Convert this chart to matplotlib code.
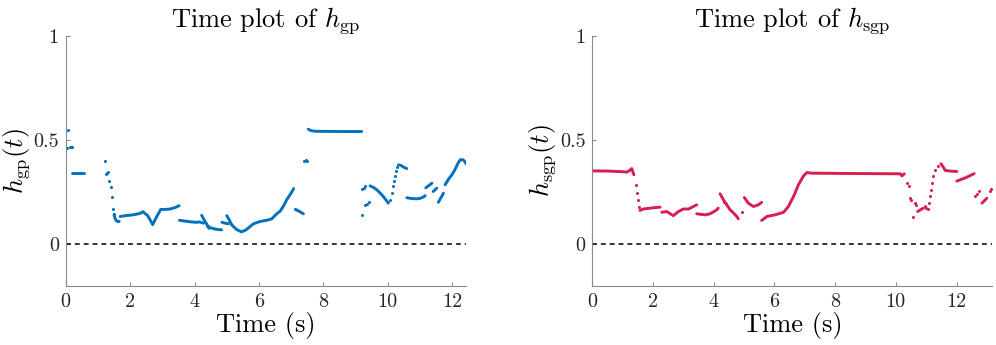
import matplotlib
matplotlib.use("Agg")
import matplotlib.pyplot as plt

plt.rcParams["font.family"] = "cmr10"
plt.rcParams["mathtext.fontset"] = "cm"
plt.rcParams["axes.unicode_minus"] = False
plt.rcParams["axes.formatter.use_mathtext"] = True

# ---- h_gp (left) : dense stretches drawn as strokes, sparse samples as dots
gp_seg_t = [
    [0.21, 0.58],
    [1.50, 1.53, 1.57, 1.62, 1.66],
    [1.69, 1.90, 2.10, 2.31, 2.40, 2.55, 2.70, 2.82, 2.95, 3.10, 3.24, 3.40, 3.52],
    [3.53, 3.70, 3.90, 4.05, 4.15, 4.28],
    [4.22, 4.30, 4.38, 4.45],
    [4.40, 4.55, 4.70, 4.84],
    [4.85, 4.95, 5.05],
    [5.00, 5.08, 5.15],
    [5.15, 5.30, 5.46, 5.60, 5.83, 6.03, 6.25, 6.40, 6.55, 6.66, 6.76, 6.86, 6.98, 7.08],
    [7.15, 7.25, 7.38],
    [7.53, 7.62, 7.75, 8.50, 9.19],
    [9.45, 9.55, 9.66, 9.76, 9.86, 9.95, 10.02],
    [10.33, 10.42, 10.50, 10.59],
    [10.59, 10.75, 10.90, 11.00, 11.10, 11.16],
    [11.18, 11.27, 11.37],
    [11.41, 11.52],
    [11.57, 11.65, 11.73],
    [11.78, 11.88, 11.98, 12.08, 12.17, 12.25, 12.33, 12.40, 12.43],
]
gp_seg_h = [
    [0.343, 0.343],
    [0.140, 0.123, 0.112, 0.108, 0.108],
    [0.132, 0.137, 0.140, 0.147, 0.155, 0.135, 0.093, 0.130, 0.166, 0.166, 0.168, 0.175, 0.184],
    [0.114, 0.110, 0.106, 0.104, 0.106, 0.100],
    [0.138, 0.115, 0.095, 0.075],
    [0.085, 0.075, 0.070, 0.068],
    [0.104, 0.100, 0.097],
    [0.136, 0.115, 0.093],
    [0.093, 0.070, 0.058, 0.068, 0.097, 0.108, 0.114, 0.121, 0.145, 0.158, 0.182, 0.212, 0.240, 0.266],
    [0.164, 0.157, 0.145],
    [0.551, 0.544, 0.541, 0.540, 0.540],
    [0.279, 0.272, 0.260, 0.245, 0.228, 0.210, 0.196],
    [0.380, 0.376, 0.368, 0.362],
    [0.222, 0.218, 0.217, 0.219, 0.225, 0.232],
    [0.270, 0.280, 0.292],
    [0.252, 0.268],
    [0.200, 0.222, 0.244],
    [0.284, 0.310, 0.330, 0.355, 0.385, 0.404, 0.405, 0.395, 0.385],
]
gp_dot_t = [0.00, 0.03, 0.13, 0.16, 0.19, 0.07,
            1.23, 1.26, 1.29, 1.32, 1.35, 1.40, 1.43, 1.47, 1.49, 7.12,
            7.40, 7.45, 7.50, 9.19, 9.30, 9.35, 9.41, 9.20, 9.25, 9.30,
            10.07, 10.12, 10.16, 10.20, 10.23, 10.26, 10.30]
gp_dot_h = [0.460, 0.461, 0.466, 0.467, 0.467, 0.545,
            0.398, 0.335, 0.343, 0.347, 0.300, 0.272, 0.227, 0.168, 0.145, 0.168,
            0.400, 0.402, 0.400, 0.137, 0.186, 0.192, 0.200, 0.264, 0.270, 0.276,
            0.212, 0.244, 0.276, 0.300, 0.324, 0.348, 0.369]

# ---- h_sgp (right)
sgp_seg_t = [
    [0.00, 0.50, 1.00, 1.13, 1.22, 1.30, 1.37],
    [1.57, 1.68, 1.90, 2.23],
    [2.29, 2.45, 2.67, 2.84, 3.00, 3.17, 3.33, 3.44],
    [3.44, 3.60, 3.72, 3.88, 4.00, 4.10, 4.15],
    [4.21, 4.32, 4.43, 4.54, 4.65, 4.76, 4.81],
    [5.01, 5.14, 5.31, 5.47, 5.58],
    [5.58, 5.75, 6.02, 6.30, 6.46, 6.63, 6.79, 6.96, 7.07, 7.23, 8.00, 9.00, 10.15, 10.20, 10.28],
    [10.72, 10.82, 10.91],
    [11.49, 11.56, 11.63, 11.80, 12.01],
    [12.01, 12.30, 12.58],
    [12.84, 12.92, 13.00],
]
sgp_seg_h = [
    [0.351, 0.350, 0.347, 0.345, 0.352, 0.362, 0.332],
    [0.161, 0.168, 0.172, 0.177],
    [0.152, 0.156, 0.136, 0.156, 0.168, 0.168, 0.180, 0.188],
    [0.145, 0.142, 0.140, 0.145, 0.155, 0.164, 0.172],
    [0.241, 0.212, 0.188, 0.164, 0.149, 0.132, 0.121],
    [0.223, 0.196, 0.180, 0.188, 0.200],
    [0.113, 0.132, 0.140, 0.152, 0.180, 0.228, 0.284, 0.327, 0.343, 0.340, 0.339, 0.338, 0.337, 0.327, 0.337],
    [0.156, 0.165, 0.172],
    [0.385, 0.370, 0.353, 0.350, 0.348],
    [0.302, 0.318, 0.338],
    [0.196, 0.208, 0.220],
]
sgp_dot_t = [1.44, 1.48, 1.52, 1.55, 4.35, 4.40, 4.93,
             10.37, 10.42, 10.47, 10.50, 10.56, 10.64, 10.67, 10.97, 11.01, 11.05,
             11.08, 11.12, 11.16, 11.20, 11.24, 11.30, 11.38,
             12.62, 12.67, 12.73, 13.10, 13.15]
sgp_dot_h = [0.284, 0.244, 0.209, 0.177, 0.200, 0.190, 0.152,
             0.292, 0.276, 0.220, 0.212, 0.128, 0.196, 0.188, 0.183, 0.175, 0.168,
             0.196, 0.228, 0.260, 0.292, 0.324, 0.353, 0.375,
             0.228, 0.240, 0.252, 0.252, 0.262]

panels = [
    dict(seg_t=gp_seg_t, seg_h=gp_seg_h, dot_t=gp_dot_t, dot_h=gp_dot_h,
         color="#0072BD", xmax=12.42, sub="gp",
         rect=[0.066, 0.172, 0.4016, 0.7246]),
    dict(seg_t=sgp_seg_t, seg_h=sgp_seg_h, dot_t=sgp_dot_t, dot_h=sgp_dot_h,
         color="#D61E50", xmax=13.18, sub="sgp",
         rect=[0.5947, 0.172, 0.4016, 0.7246]),
]

fig = plt.figure(figsize=(9.96, 3.45), dpi=100)

for p in panels:
    ax = fig.add_axes(p["rect"])
    for t, h in zip(p["seg_t"], p["seg_h"]):
        ax.plot(t, h, color=p["color"], lw=2.1, solid_capstyle="round",
                solid_joinstyle="round")
    ax.plot(p["dot_t"], p["dot_h"], "o", color=p["color"], ms=2.2, mew=0)
    ax.axhline(0, color="black", lw=1.1, ls=(0, (3.2, 2.6)))

    ax.set_xlim(0, p["xmax"])
    ax.set_ylim(-0.2, 1)
    ax.set_xticks([0, 2, 4, 6, 8, 10, 12], labels=["0", "2", "4", "6", "8", "10", "12"])
    ax.set_yticks([0, 0.5, 1], labels=["0", "0.5", "1"])
    for s in ["top", "right"]:
        ax.spines[s].set_visible(False)
    for s in ["left", "bottom"]:
        ax.spines[s].set_color("#8a8a8a")
        ax.spines[s].set_linewidth(0.8)
    ax.tick_params(direction="in", length=3, width=0.8, color="#8a8a8a",
                   labelsize=14.5, labelcolor="#262626", pad=5)

    ax.set_title(r"Time plot of $h_{\mathrm{%s}}$" % p["sub"], fontsize=19, pad=5)
    ax.set_xlabel("Time (s)", fontsize=19, labelpad=1)
    ax.set_ylabel(r"$h_{\mathrm{%s}}(t)$" % p["sub"], fontsize=19, labelpad=1)

fig.savefig("out.png", dpi=100)
